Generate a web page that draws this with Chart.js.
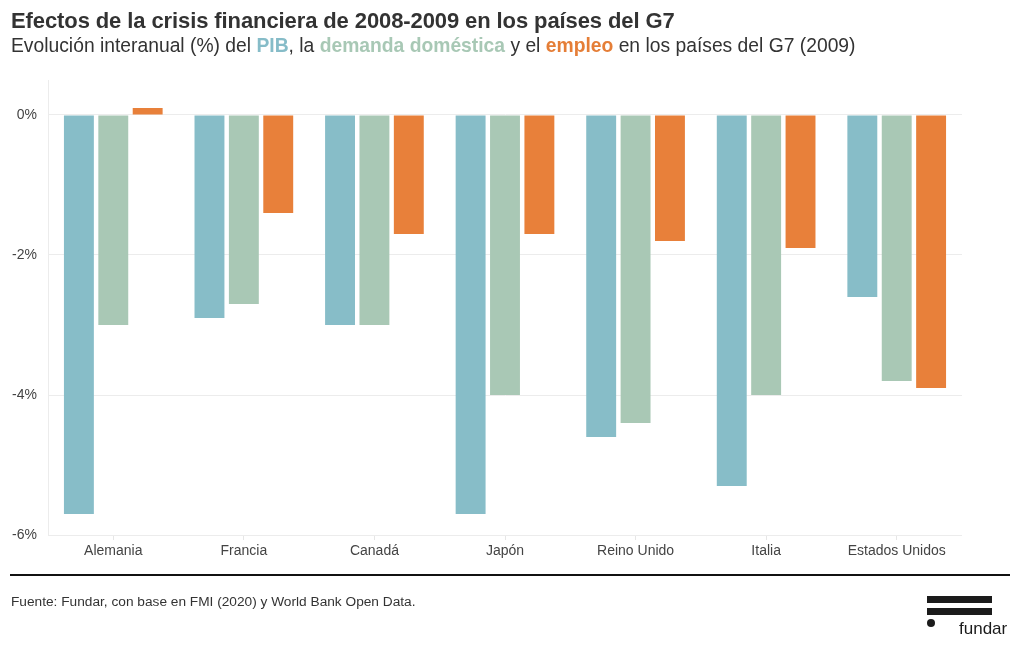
<!DOCTYPE html>
<html>
<head>
<meta charset="utf-8">
<script src="https://cdn.jsdelivr.net/npm/chart.js@4"></script>
<style>
  body { margin: 0; width: 1020px; height: 650px; position: relative; background: #fff; font-family: "Liberation Sans", Arial, sans-serif; overflow: hidden; }
  #wrap { position: absolute; left: 0; top: 0; width: 1020px; height: 650px; }
  .title { position: absolute; left: 11px; top: 8px; font-size: 22px; font-weight: 700; color: #333; letter-spacing: -0.1px; }
  .sub { position: absolute; left: 11px; top: 35px; font-size: 19.3px; color: #333; }
  .sub b { font-weight: 700; }
  .rule { position: absolute; left: 10px; top: 574px; width: 1000px; height: 1.5px; background: #111; }
  .src { position: absolute; left: 11px; top: 594px; font-size: 13.7px; color: #333; }
  .logo-bar { position: absolute; left: 927px; width: 65px; height: 7px; background: #1b1b1b; }
  .logo-dot { position: absolute; left: 927px; top: 619px; width: 8px; height: 8px; border-radius: 50%; background: #1b1b1b; }
  .logo-txt { position: absolute; left: 959px; top: 619px; font-size: 17px; color: #1b1b1b; }
</style>
</head>
<body>
<div id="wrap"><canvas id="c"></canvas></div>
<div class="title">Efectos de la crisis financiera de 2008-2009 en los países del G7</div>
<div class="sub">Evolución interanual (%) del <b style="color:#86bcc8">PIB</b>, la <b style="color:#a8c8b5">demanda doméstica</b> y el <b style="color:#e57e37">empleo</b> en los países del G7 (2009)</div>
<div class="rule"></div>
<div class="src">Fuente: Fundar, con base en FMI (2020) y World Bank Open Data.</div>
<div class="logo-bar" style="top:596px"></div>
<div class="logo-bar" style="top:608px"></div>
<div class="logo-dot"></div>
<div class="logo-txt">fundar</div>
<script>
// categories and series (% interanual, 2009)
const paises = ['Alemania', 'Francia', 'Canadá', 'Japón', 'Reino Unido', 'Italia', 'Estados Unidos'];
const pib = [-5.7, -2.9, -3.0, -5.7, -4.6, -5.3, -2.6];
const demanda = [-3.0, -2.7, -3.0, -4.0, -4.4, -4.0, -3.8];
const empleo = [0.1, -1.4, -1.7, -1.7, -1.8, -1.9, -3.9];
const yTicks = [-6, -4, -2, 0];

const bar = { categoryPercentage: 0.79, barPercentage: 0.87 };
const tickFont = { family: '"Liberation Sans", Arial, sans-serif', size: 14 };

new Chart(document.getElementById('c'), {
    type: 'bar',
    data: {
        labels: paises,
        datasets: [
            { label: 'PIB', data: pib, backgroundColor: '#87bdc8', ...bar },
            { label: 'Demanda doméstica', data: demanda, backgroundColor: '#a9c8b5', ...bar },
            { label: 'Empleo', data: empleo, backgroundColor: '#e8803a', ...bar }
        ]
    },
    options: {
        responsive: true, maintainAspectRatio: false, animation: false,
        layout: { padding: { left: 0, right: 58, top: 80, bottom: 85 } },
        plugins: { legend: { display: false }, tooltip: { enabled: false } },
        scales: {
            x: {
                afterFit: s => { s.height = 30; },
                grid: { offset: false, drawOnChartArea: false, drawTicks: true, tickLength: 5, color: '#e6e6e6' },
                border: { display: false },
                ticks: { color: '#444', padding: 3, font: tickFont }
            },
            y: {
                min: -6, max: 0.5,
                afterFit: s => { s.width = 48; },
                afterBuildTicks: s => { s.ticks = yTicks.map(v => ({ value: v })); },
                grid: { color: '#ececec', drawTicks: false },
                border: { display: true, color: '#ececec' },
                ticks: { color: '#444', padding: 11, font: tickFont, callback: v => v + '%' }
            }
        }
    }
});
</script>
</body>
</html>
